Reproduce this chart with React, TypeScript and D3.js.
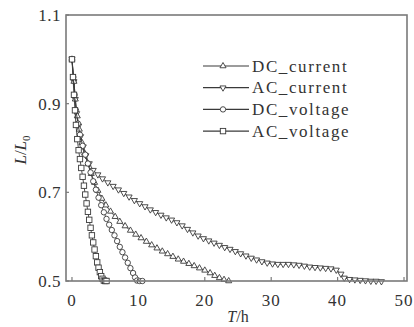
import * as d3 from "d3";

// [T (h), L/L0]
const acCurrent: [number, number][] = [
  [0, 1.0], [0.3, 0.95], [0.5, 0.91], [0.7, 0.878], [1.0, 0.85], [1.3, 0.826],
  [1.7, 0.803], [2.1, 0.783], [2.6, 0.765], [3.2, 0.75], [3.9, 0.74], [4.6, 0.731],
  [5.4, 0.722], [6.2, 0.714], [7.0, 0.706], [7.8, 0.698], [8.6, 0.69], [9.4, 0.682],
  [10.2, 0.675], [11.0, 0.668], [11.8, 0.661], [12.6, 0.655], [13.4, 0.649],
  [14.2, 0.643], [15.0, 0.638], [15.8, 0.632], [16.6, 0.625], [17.4, 0.617],
  [18.2, 0.609], [19.0, 0.602], [19.8, 0.596], [20.6, 0.591], [21.4, 0.586],
  [22.2, 0.581], [23.0, 0.576], [23.8, 0.572], [24.6, 0.567], [25.4, 0.562],
  [26.2, 0.557], [27.0, 0.552], [27.8, 0.548], [28.6, 0.544], [29.4, 0.541],
  [30.2, 0.539], [31.0, 0.538], [31.8, 0.538], [32.6, 0.538], [33.4, 0.537],
  [34.2, 0.536], [35.0, 0.534], [35.8, 0.532], [36.6, 0.531], [37.4, 0.53],
  [38.2, 0.529], [39.0, 0.528], [39.8, 0.525], [40.5, 0.516], [41.0, 0.507],
  [41.8, 0.504], [42.6, 0.503], [43.4, 0.502], [44.2, 0.501], [45.0, 0.5],
  [45.8, 0.5], [46.6, 0.499],
];

const dcCurrent: [number, number][] = [
  [0, 1.0], [0.3, 0.95], [0.5, 0.91], [0.8, 0.872], [1.1, 0.842], [1.5, 0.812],
  [1.9, 0.788], [2.4, 0.764], [2.9, 0.742], [3.4, 0.722], [3.9, 0.704], [4.5, 0.686],
  [5.1, 0.671], [5.8, 0.657], [6.5, 0.645], [7.2, 0.634], [8.0, 0.624], [8.8, 0.614],
  [9.6, 0.605], [10.4, 0.597], [11.2, 0.589], [12.0, 0.581], [12.8, 0.574],
  [13.6, 0.567], [14.4, 0.561], [15.2, 0.555], [16.0, 0.549], [16.8, 0.544],
  [17.6, 0.539], [18.4, 0.534], [19.2, 0.529], [20.0, 0.524], [20.8, 0.518],
  [21.5, 0.512], [22.2, 0.507], [22.9, 0.503], [23.6, 0.5],
];

const dcVoltage: [number, number][] = [
  [0, 1.0], [0.2, 0.96], [0.4, 0.92], [0.6, 0.885], [0.9, 0.855], [1.2, 0.83],
  [1.6, 0.805], [2.0, 0.785], [2.4, 0.765], [2.8, 0.745], [3.2, 0.725], [3.6, 0.706],
  [4.0, 0.688], [4.4, 0.671], [4.8, 0.655], [5.2, 0.64], [5.6, 0.627], [6.0, 0.615],
  [6.4, 0.603], [6.8, 0.59], [7.2, 0.577], [7.6, 0.565], [8.0, 0.553], [8.4, 0.541],
  [8.8, 0.529], [9.2, 0.518], [9.5, 0.508], [9.8, 0.501], [10.2, 0.5], [10.6, 0.5],
];

const acVoltage: [number, number][] = [
  [0, 1.0], [0.15, 0.96], [0.3, 0.92], [0.45, 0.885], [0.6, 0.852], [0.8, 0.82],
  [1.0, 0.795], [1.2, 0.775], [1.4, 0.755], [1.6, 0.735], [1.8, 0.715], [2.0, 0.695],
  [2.2, 0.675], [2.4, 0.656], [2.6, 0.638], [2.8, 0.62], [3.0, 0.603], [3.2, 0.587],
  [3.4, 0.571], [3.6, 0.556], [3.8, 0.542], [4.0, 0.53], [4.2, 0.52], [4.4, 0.511],
  [4.6, 0.505], [4.8, 0.501], [5.0, 0.5], [5.2, 0.5],
];

const xTicks = [0, 10, 20, 30, 40, 50];
const yTicks = [0.5, 0.7, 0.9, 1.1];

const seriesNames = ["DC_current", "AC_current", "DC_voltage", "AC_voltage"];

const ink = "#3a3a3a";
const frame = "#7a7a7a";
const font = "'Liberation Serif', 'Times New Roman', serif";

function Marker({ kind, x, y }: { kind: string; x: number; y: number }) {
  if (kind === "AC_voltage") {
    return <rect x={x - 2.7} y={y - 2.7} width={5.4} height={5.4} fill="white" stroke={ink} strokeWidth={0.9} />;
  }
  if (kind === "DC_voltage") {
    return <circle cx={x} cy={y} r={2.7} fill="white" stroke={ink} strokeWidth={0.9} />;
  }
  const d = d3.symbol(d3.symbolTriangle, 16)()!;
  const rot = kind === "AC_current" ? 180 : 0;
  return <path d={d} transform={`translate(${x},${y}) rotate(${rot})`} fill="white" stroke={ink} strokeWidth={0.9} />;
}

export default function App() {
  const width = 414;
  const height = 327;
  const left = 66, right = 407, top = 15, bottom = 281;

  const x = d3.scaleLinear().domain([-0.9, 50.45]).range([left, right]);
  const y = d3.scaleLinear().domain([0.5, 1.1]).range([bottom, top]);

  const line = d3
    .line<[number, number]>()
    .x((d) => x(d[0]))
    .y((d) => y(d[1]));

  const series: { name: string; data: [number, number][] }[] = [
    { name: "AC_current", data: acCurrent },
    { name: "DC_current", data: dcCurrent },
    { name: "DC_voltage", data: dcVoltage },
    { name: "AC_voltage", data: acVoltage },
  ];

  return (
    <svg
      width={width}
      height={height}
      style={{ position: "absolute", left: 0, top: 0, background: "white" }}
      fontFamily={font}
    >
      {series.map((s) => (
        <g key={s.name}>
          <path d={line(s.data)!} fill="none" stroke={ink} strokeWidth={0.9} />
          {s.data.map((d, i) => (
            <Marker key={i} kind={s.name} x={x(d[0])} y={y(d[1])} />
          ))}
        </g>
      ))}

      <rect x={left} y={top} width={right - left} height={bottom - top} fill="none" stroke={frame} strokeWidth={1.6} />

      {xTicks.map((t) => (
        <g key={t}>
          <line x1={x(t)} x2={x(t)} y1={bottom} y2={bottom - 4} stroke={frame} strokeWidth={1.2} />
          <text x={x(t)} y={306} textAnchor="middle" fontSize={17} fill="#333" letterSpacing={1}>
            {t}
          </text>
        </g>
      ))}
      {yTicks.map((t) => (
        <g key={t}>
          <line x1={left} x2={left + 3} y1={y(t)} y2={y(t)} stroke={frame} strokeWidth={1.2} />
          <text x={61} y={y(t) + 6} textAnchor="end" fontSize={17} fill="#333" letterSpacing={0.5}>
            {t.toFixed(1)}
          </text>
        </g>
      ))}

      <text x={238} y={322} textAnchor="middle" fontSize={16} fill="#333">
        <tspan fontStyle="italic">T</tspan>/h
      </text>
      <text transform="translate(26,150) rotate(-90)" textAnchor="middle" fontSize={17} fill="#333">
        <tspan fontStyle="italic">L</tspan>/<tspan fontStyle="italic">L</tspan>
        <tspan fontSize={11} dy={4}>0</tspan>
      </text>

      {seriesNames.map((name, i) => {
        const ly = 66 + i * 21.7;
        return (
          <g key={name}>
            <line x1={203} x2={249} y1={ly} y2={ly} stroke={ink} strokeWidth={1.2} />
            <Marker kind={name} x={223} y={ly} />
            <text x={252} y={ly + 5.5} fontSize={17} fill="#333" letterSpacing={1.6}>
              {name}
            </text>
          </g>
        );
      })}
    </svg>
  );
}
